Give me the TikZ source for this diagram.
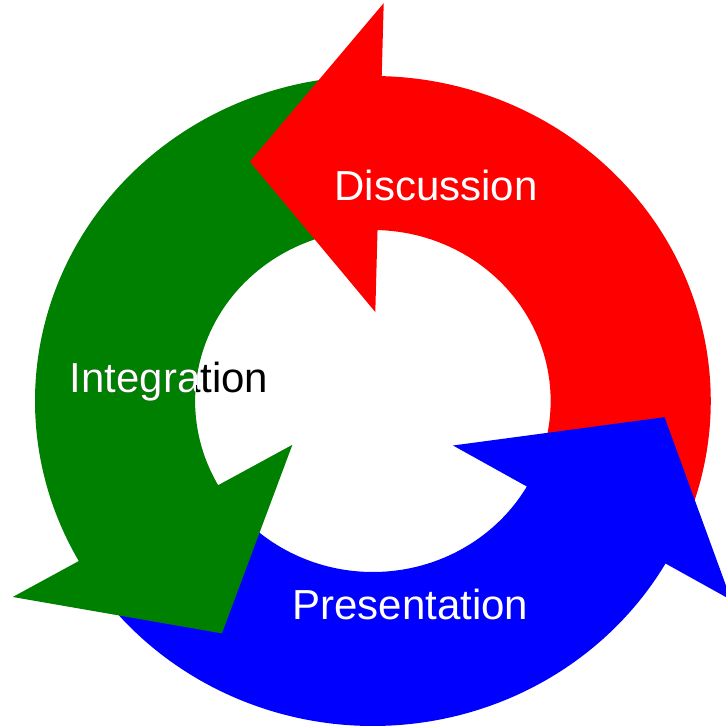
\documentclass[tikz,border=0pt]{standalone}
\usepackage{fontspec}
\setmainfont{Liberation Sans}
\definecolor{dkgreen}{RGB}{0,128,0}
\begin{document}
\begin{tikzpicture}[x=0.0208cm, y=0.02cm,
  word/.style={font=\fontsize{23.9}{28}\selectfont, anchor=base, inner sep=0pt}]
\pgfmathsetmacro{\rin}{171}
\pgfmathsetmacro{\rout}{325}
\pgfmathsetmacro{\bin}{89}
\pgfmathsetmacro{\bout}{398}
\useasboundingbox (-358.65,-325) rectangle (339.42,401);
% shafts: head angle / tail angle / colour
\foreach \h/\t/\col in {448.5/337/red, 330/216.5/blue, 209.5/95.5/dkgreen}
  \fill [color=\col] (\t:\rout) arc [start angle=\t, end angle=\h+1, radius=\rout]
    -- (\h+1:\rin) arc [start angle=\h+1, end angle=\t, radius=\rin] -- cycle;
% heads: head angle / tip angle / tip radius / colour
\foreach \h/\a/\d/\col in {448.5/476.3/267/red, 330/356.7/281/blue, 209.5/238/274/dkgreen}
  \fill [color=\col] (\h:\bin) -- (\h:\bout) -- (\a:\d) -- cycle;
% labels
\node [word, white] (disc) at (60.6,200) {Discussion};
\node [word, white] (pres) at (36,-218) {Presentation};
\node [word, black] (integ) at (-196,8) {Integration};
\begin{scope}
\clip (95.5:\rout) arc [start angle=95.5, end angle=210.5, radius=\rout]
  -- (210.5:\rin) arc [start angle=210.5, end angle=95.5, radius=\rin] -- cycle;
\node [word, white] at (integ.base) {Integration};
\end{scope}
\end{tikzpicture}
\end{document}
